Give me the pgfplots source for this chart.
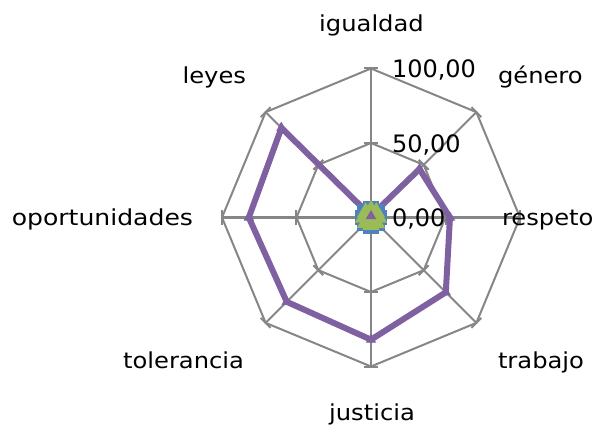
\documentclass[border=0pt]{standalone}
\usepackage{pgfplots}
\pgfplotsset{compat=1.18}
\usepgfplotslibrary{polar}
\usepackage{fontspec}
\setmainfont{DejaVu Sans}[FakeStretch=1.1]
\newfontfamily\tickfont{DejaVu Sans}
\definecolor{gridgray}{HTML}{868686}
\definecolor{serblue}{HTML}{4F81BD}
\definecolor{serred}{HTML}{C0504D}
\definecolor{sergreen}{HTML}{9BBB59}
\definecolor{serpurple}{HTML}{7F60A0}
\tikzset{gridline/.style={gridgray, line width=2bp}}
\begin{document}
\begin{tikzpicture}
\begin{polaraxis}[
  hide axis, scale only axis, width=298bp, height=298bp,
  xmin=0, xmax=360, ymin=0, ymax=100, clip=false,
]
\addplot[gridline, mark=none] coordinates {(90,50)(45,50)(0,50)(315,50)(270,50)(225,50)(180,50)(135,50)} -- cycle;
\addplot[gridline, mark=none] coordinates {(90,100)(45,100)(0,100)(315,100)(270,100)(225,100)(180,100)(135,100)} -- cycle;
\pgfplotsinvokeforeach{0,45,90,135,180,225,270,315}{
  \addplot[gridline, mark=none] coordinates {(#1,0) (#1,100)};
  \draw[gridline] ([shift={({#1+90}:7bp)}]axis cs:#1,50) -- ([shift={({#1-90}:7bp)}]axis cs:#1,50);
  \draw[gridline] ([shift={({#1+90}:7bp)}]axis cs:#1,100) -- ([shift={({#1-90}:7bp)}]axis cs:#1,100);
}
% series (igualdad, genero, respeto, trabajo, justicia, tolerancia, oportunidades, leyes)
\addplot[serblue, line width=5bp, mark=square*, mark size=5bp] coordinates {(90,6)(45,6)(0,6)(315,6)(270,6)(225,6)(180,6)(135,6)} -- cycle;
\addplot[serred, line width=5bp, mark=*, mark size=3bp] coordinates {(90,4)(45,4)(0,4)(315,4)(270,4)(225,4)(180,4)(135,4)} -- cycle;
\addplot[sergreen, line width=5bp, mark=triangle*, mark size=5bp] coordinates {(90,5)(45,5)(0,5)(315,5)(270,5)(225,5)(180,5)(135,5)} -- cycle;
\addplot[serpurple, line width=6bp, line join=miter, mark=triangle*, mark size=5bp, mark options={line width=1bp}] coordinates {(90,1)(45,46)(0,53)(315,71)(270,82)(225,80)(180,82)(135,85)} -- cycle;
\coordinate (O) at (axis cs:0,0);
\end{polaraxis}
\begin{scope}[every node/.style={inner sep=0pt, outer sep=0pt, font=\fontsize{22bp}{26bp}\selectfont}]
\node[anchor=base] at ([shift={(0.5bp,186bp)}]O) {igualdad};
\node[anchor=base west] at ([shift={(127bp,134bp)}]O) {género};
\node[anchor=base west] at ([shift={(131bp,-8.5bp)}]O) {respeto};
\node[anchor=base west] at ([shift={(127bp,-150.5bp)}]O) {trabajo};
\node[anchor=base] at ([shift={(1bp,-202.5bp)}]O) {justicia};
\node[anchor=base east] at ([shift={(-127bp,-150.5bp)}]O) {tolerancia};
\node[anchor=base east] at ([shift={(-178bp,-8.5bp)}]O) {\addfontfeature{FakeStretch=1.14}oportunidades};
\node[anchor=base east] at ([shift={(-125bp,134bp)}]O) {leyes};
\end{scope}
\begin{scope}[every node/.style={inner sep=0pt, outer sep=0pt, font=\tickfont\fontsize{24bp}{28bp}\selectfont}]
\node[anchor=base west] at ([shift={(21bp,139.5bp)}]O) {100,00};
\node[anchor=base west] at ([shift={(21bp,65bp)}]O) {50,00};
\node[anchor=base west] at ([shift={(21bp,-9.5bp)}]O) {0,00};
\end{scope}
\pgfresetboundingbox
\path[use as bounding box] ([shift={(-371bp,-214.5bp)}]O) rectangle ([shift={(231bp,217.5bp)}]O);
\end{tikzpicture}
\end{document}
